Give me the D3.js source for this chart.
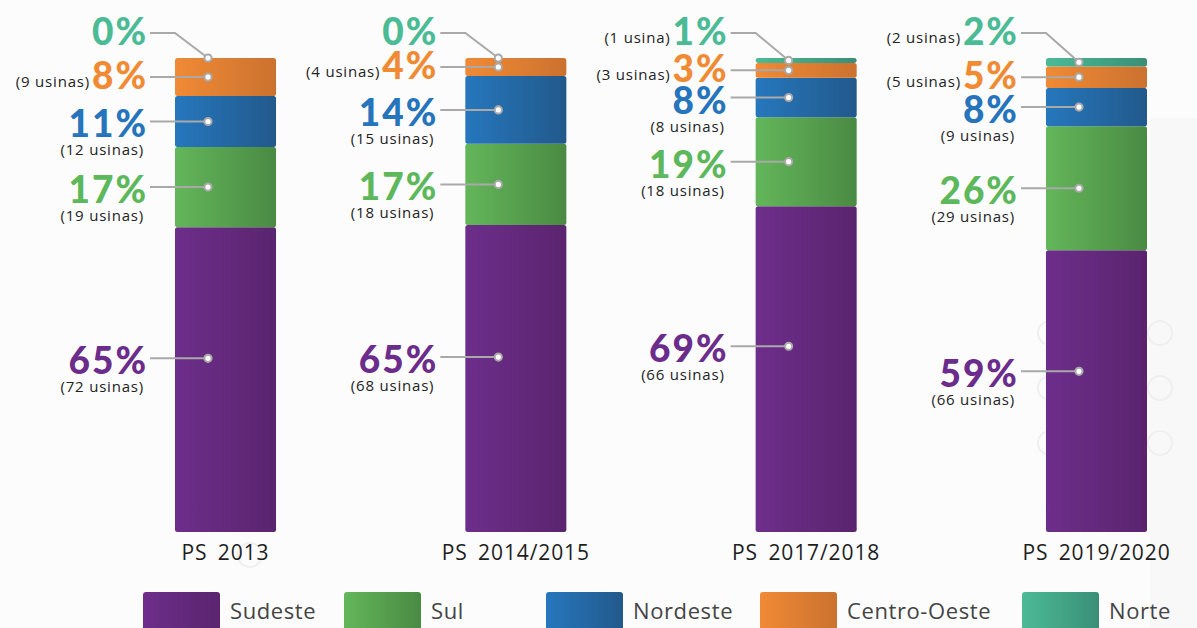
<!DOCTYPE html>
<html>
<head>
<meta charset="utf-8">
<script src="https://cdn.jsdelivr.net/npm/d3@7"></script>
<style>
  html, body { margin: 0; padding: 0; background: #fcfcfc; overflow: hidden; }
  svg { display: block; }
</style>
</head>
<body>
<script>
const periods = ['PS 2013', 'PS 2014/2015', 'PS 2017/2018', 'PS 2019/2020']
const regions = ['Sudeste', 'Sul', 'Nordeste', 'Centro-Oeste', 'Norte']

// usinas per region, per period
const sudeste = [72, 68, 66, 66]
const sul = [19, 18, 18, 29]
const nordeste = [12, 15, 8, 9]
const centroOeste = [9, 4, 3, 5]
const norte = [0, 0, 1, 2]

// percentage labels as printed
const sudestePct = [65, 65, 69, 59]
const sulPct = [17, 17, 19, 26]
const nordestePct = [11, 14, 8, 8]
const centroOestePct = [8, 4, 3, 5]
const nortePct = [0, 0, 1, 2]

const w = 1197, h = 628

const counts = { 'Sudeste': sudeste, 'Sul': sul, 'Nordeste': nordeste, 'Centro-Oeste': centroOeste, 'Norte': norte }
const pcts = { 'Sudeste': sudestePct, 'Sul': sulPct, 'Nordeste': nordestePct, 'Centro-Oeste': centroOestePct, 'Norte': nortePct }

const table = periods.map((p, i) => {
    let row = { period: p, i: i }
    regions.forEach(r => row[r] = counts[r][i])
    return row
})

const grad = {
    'Sudeste': ['#6d2e8b', '#5a246e'],
    'Sul': ['#63b65a', '#4a8a43'],
    'Nordeste': ['#2677bd', '#22598b'],
    'Centro-Oeste': ['#f08a35', '#cb722f'],
    'Norte': ['#4cba96', '#3a8f76']
}
const labelColor = {
    'Sudeste': '#6b2c8b',
    'Sul': '#5cb85b',
    'Nordeste': '#2674bb',
    'Centro-Oeste': '#f08a33',
    'Norte': '#4bbb96'
}

let svg = d3.select('body')
    .append('svg')
    .attr('width', w)
    .attr('height', h)

// faint background decoration
svg.append('rect')
    .attr('x', 1150).attr('y', 118)
    .attr('width', 47).attr('height', 510)
    .attr('fill', '#f8f8f8')
const deco = [[1050, 333], [1160, 333], [1050, 388], [1160, 388], [1050, 443], [1160, 443], [250, 555]]
svg.selectAll('.deco')
    .data(deco)
    .enter()
    .append('circle')
    .attr('cx', d => d[0]).attr('cy', d => d[1])
    .attr('r', 12)
    .attr('fill', 'none')
    .attr('stroke', '#efefef')
    .attr('stroke-width', 2)

const defs = svg.append('defs')
regions.forEach((r, i) => {
    let g = defs.append('linearGradient')
        .attr('id', 'g' + i)
        .attr('x1', '0%').attr('x2', '100%')
        .attr('y1', '0%').attr('y2', '0%')
    g.append('stop').attr('offset', '0%').attr('stop-color', grad[r][0])
    g.append('stop').attr('offset', '100%').attr('stop-color', grad[r][1])
})

const xScale = d3.scaleBand()
    .domain(periods)
    .range([175, 1147])
    .paddingInner(0.652)
    .paddingOuter(0)

const yScale = d3.scaleLinear()
    .domain([0, 1])
    .range([532, 58])

const stacked = d3.stack()
    .keys(regions)
    .offset(d3.stackOffsetExpand)(table)

// bars
stacked.forEach((layer, li) => {
    svg.append('g')
        .selectAll('rect')
        .data(layer)
        .enter()
        .append('rect')
        .attr('x', d => xScale(d.data.period))
        .attr('y', d => yScale(d[1]))
        .attr('width', xScale.bandwidth())
        .attr('height', d => Math.max(0, yScale(d[0]) - yScale(d[1])))
        .attr('rx', 2.5)
        .attr('fill', 'url(#g' + li + ')')
})

// x axis
const xAxis = d3.axisBottom(xScale).tickSize(0).tickPadding(13)
let ax = svg.append('g')
    .attr('transform', 'translate(0, 532)')
    .call(xAxis)
ax.select('.domain').remove()
ax.selectAll('text')
    .style('font-family', '"Open Sans", "Noto Sans", sans-serif')
    .style('font-size', '21px')
    .style('letter-spacing', '0.9px')
    .style('word-spacing', '4px')
    .attr('fill', '#1e1e1e')

// labels with leader lines
const usinaText = n => '(' + n + (n == 1 ? ' usina)' : ' usinas)')
const labels = svg.append('g')

stacked.forEach((layer, li) => {
    let r = regions[li]
    layer.forEach((d, i) => {
        let left = xScale(d.data.period)
        let top = yScale(d[1]), bottom = yScale(d[0])
        let dotX = left + 33
        let frac = r == 'Sudeste' ? 0.43 : 0.5
        let dotY = top + (bottom - top) * frac
        let textX = left - 27
        let inline = (r == 'Norte' || r == 'Centro-Oeste')
        let labelY = r == 'Norte' ? 33 : dotY
        let baseY = inline ? labelY + 12 : labelY + 16

        // leader
        let path = d3.path()
        path.moveTo(left - 25, labelY)
        if (r == 'Norte') {
            path.lineTo(left, labelY)
            path.lineTo(dotX, dotY)
        } else {
            path.lineTo(dotX, dotY)
        }
        labels.append('path')
            .attr('d', path.toString())
            .attr('fill', 'none')
            .attr('stroke', '#a9a9a9')
            .attr('stroke-width', 2)
        labels.append('circle')
            .attr('cx', dotX).attr('cy', dotY)
            .attr('r', 3.6)
            .attr('fill', '#ffffff')
            .attr('stroke', '#a9a9a9')
            .attr('stroke-width', 2)

        let pt = labels.append('text')
            .attr('x', textX)
            .attr('y', baseY)
            .attr('text-anchor', 'end')
            .style('font-family', 'Lato, sans-serif')
            .style('font-weight', 900)
            .style('font-size', '37px')
            .style('letter-spacing', '2px')
            .attr('fill', labelColor[r])
            .text(pcts[r][i] + '%')

        let n = counts[r][i]
        if (n > 0) {
            let ux = inline ? textX - pt.node().getBBox().width - 2 : left - 31
            labels.append('text')
                .attr('x', ux)
                .attr('y', inline ? baseY - 2 : labelY + 34)
                .attr('text-anchor', 'end')
                .style('font-family', '"Open Sans", "Noto Sans", sans-serif')
                .style('font-size', '15px')
                .style('letter-spacing', '0.8px')
                .attr('fill', '#222')
                .text(usinaText(n))
        }
    })
})

// legend
const legendX = [143, 344, 546, 760, 1022]
let legend = svg.selectAll('.legend')
    .data(regions)
    .enter()
    .append('g')
    .attr('class', 'legend')
    .attr('transform', (d, i) => `translate(${legendX[i]}, 592)`)

legend.append('rect')
    .attr('width', 77)
    .attr('height', 50)
    .attr('rx', 3)
    .attr('fill', (d, i) => 'url(#g' + i + ')')

legend.append('text')
    .attr('x', 87)
    .attr('y', 27)
    .style('font-family', '"Open Sans", "Noto Sans", sans-serif')
    .style('font-size', '22px')
    .style('letter-spacing', '0.6px')
    .attr('fill', '#444')
    .text(d => d)
</script>
</body>
</html>
